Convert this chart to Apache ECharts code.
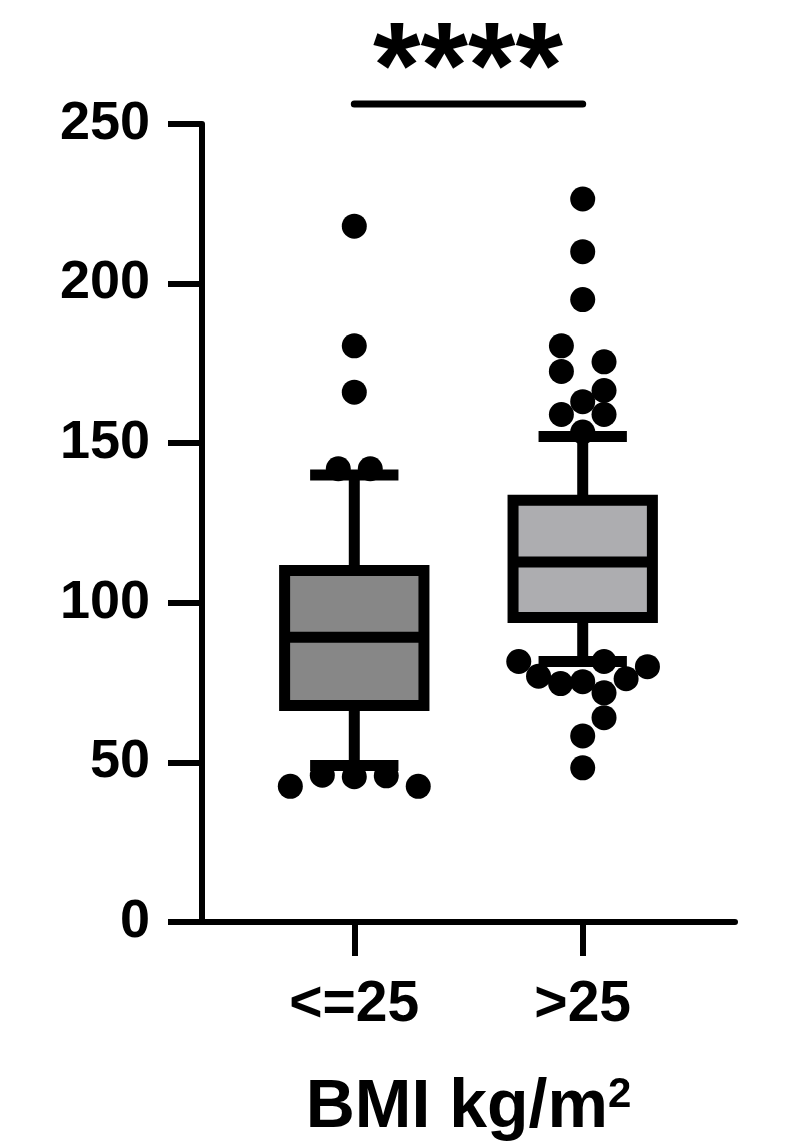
<!DOCTYPE html>
<html><head><meta charset="utf-8">
<script src="https://cdn.jsdelivr.net/npm/echarts@6/dist/echarts.min.js"></script>
<style>html,body{margin:0;padding:0;background:#fff}#c{width:795px;height:1144px}</style>
</head><body><div id="c"></div>
<script>
// ---- data ----
const categories = ['<=25', '>25'];
const yTicks = [0, 50, 100, 150, 200, 250];
// [lower whisker, Q1, median, Q3, upper whisker]
const boxLowBMI = [49, 67.8, 89.2, 110.1, 140];
const boxHighBMI = [81.6, 95.4, 112.8, 132.1, 152.1];
const outliersLowBMI = [218, 180.5, 166, 142, 142, 46, 45.5, 45.8, 42.5, 42.5];
const outliersHighBMI = [226.5, 210, 195, 180.5, 175.5, 172.5, 166.5, 163, 159, 159, 153.5,
  81.6, 77, 74.7, 75.3, 81.6, 71.8, 76.2, 80, 64, 58.3, 48.3];
const significance = '****';
const axisTitle = 'BMI kg/m';
const axisTitleSup = '2';

// ---- layout helpers (not data) ----
const FONT = "'Liberation Sans', Arial, sans-serif";
const slots = [2, 5];           // category positions on a 0..7 scale
const jitterLow = [0, 0, 0, -0.21, 0.21, -0.42, 0, 0.42, -0.84, 0.84];
const jitterHigh = [0, 0, 0, -0.28, 0.28, -0.28, 0.28, 0, -0.28, 0.28, 0,
  -0.84, -0.58, -0.29, 0, 0.28, 0.28, 0.57, 0.85, 0.28, 0, 0];
const boxFills = ['#878787', '#adadb0'];
const sigLevel = 256.3;

const catData = new Array(8).fill('');
categories.forEach((c, i) => { catData[slots[i]] = c; });
const showCat = (i) => catData[i] !== '';

const boxData = [[slots[0]].concat(boxLowBMI), [slots[1]].concat(boxHighBMI)];
const dots = outliersLowBMI.map((v, i) => [slots[0] + jitterLow[i], v])
  .concat(outliersHighBMI.map((v, i) => [slots[1] + jitterHigh[i], v]));

const LW = 11;
const chart = echarts.init(document.getElementById('c'), null, {renderer: 'canvas'});
chart.setOption({
  animation: false,
  backgroundColor: '#fff',
  title: {
    text: significance, left: 468, top: 12, padding: 0, textAlign: 'center',
    textStyle: {fontSize: 122, fontWeight: 'bold', fontFamily: FONT, color: '#000', lineHeight: 122}
  },
  grid: {left: 202, top: 124, width: 533, height: 798, outerBoundsMode: 'none', containLabel: false},
  xAxis: [{
    type: 'category', data: catData, boundaryGap: false,
    axisLine: {show: true, lineStyle: {color: '#000', width: 6}},
    axisTick: {show: true, interval: showCat, length: 34, lineStyle: {color: '#000', width: 6}},
    axisLabel: {interval: showCat, margin: 55, fontSize: 57, fontWeight: 'bold', fontFamily: FONT, color: '#000'},
    splitLine: {show: false},
    name: '{a|' + axisTitle + '}{b|' + axisTitleSup + '}',
    nameLocation: 'middle', nameGap: 152,
    nameTextStyle: {
      rich: {
        a: {fontSize: 68, fontWeight: 'bold', fontFamily: FONT, color: '#000', lineHeight: 68},
        b: {fontSize: 42, fontWeight: 'bold', fontFamily: FONT, color: '#000', lineHeight: 36, verticalAlign: 'top'}
      }
    }
  }, {
    type: 'value', min: 0, max: 7, show: false
  }],
  yAxis: {
    type: 'value', min: yTicks[0], max: yTicks[yTicks.length - 1], interval: yTicks[1] - yTicks[0],
    axisLine: {show: true, lineStyle: {color: '#000', width: 6}},
    axisTick: {show: true, length: 34, lineStyle: {color: '#000', width: 6}},
    axisLabel: {margin: 52, fontSize: 54, fontWeight: 'bold', fontFamily: FONT, color: '#000'},
    splitLine: {show: false}
  },
  series: [{
    type: 'custom', xAxisIndex: 1, data: boxData,
    encode: {x: 0, y: [1, 2, 3, 4, 5]},
    renderItem: function (params, api) {
      const x = api.value(0);
      const lo = api.coord([x, api.value(1)]);
      const q1 = api.coord([x, api.value(2)]);
      const med = api.coord([x, api.value(3)]);
      const q3 = api.coord([x, api.value(4)]);
      const hi = api.coord([x, api.value(5)]);
      const bw = api.size([1.83, 0])[0];
      const cw = api.size([1.16, 0])[0];
      const cx = lo[0];
      const ls = {stroke: '#000', lineWidth: LW};
      return {type: 'group', children: [
        {type: 'line', shape: {x1: cx, y1: hi[1], x2: cx, y2: q3[1]}, style: ls},
        {type: 'line', shape: {x1: cx, y1: q1[1], x2: cx, y2: lo[1]}, style: ls},
        {type: 'line', shape: {x1: cx - cw / 2, y1: hi[1], x2: cx + cw / 2, y2: hi[1]}, style: ls},
        {type: 'line', shape: {x1: cx - cw / 2, y1: lo[1], x2: cx + cw / 2, y2: lo[1]}, style: ls},
        {type: 'rect', shape: {x: cx - bw / 2, y: q3[1], width: bw, height: q1[1] - q3[1]},
          style: {fill: boxFills[params.dataIndex], stroke: '#000', lineWidth: LW}},
        {type: 'line', shape: {x1: cx - bw / 2, y1: med[1], x2: cx + bw / 2, y2: med[1]}, style: ls}
      ]};
    }
  }, {
    type: 'scatter', xAxisIndex: 1, data: dots, symbol: 'circle', symbolSize: 25,
    itemStyle: {color: '#000', opacity: 1}, z: 5
  }, {
    type: 'line', xAxisIndex: 1, data: [[slots[0], sigLevel], [slots[1], sigLevel]],
    symbol: 'none', clip: false, silent: true,
    lineStyle: {color: '#000', width: 7, cap: 'round'}
  }]
});
</script>
</body></html>
